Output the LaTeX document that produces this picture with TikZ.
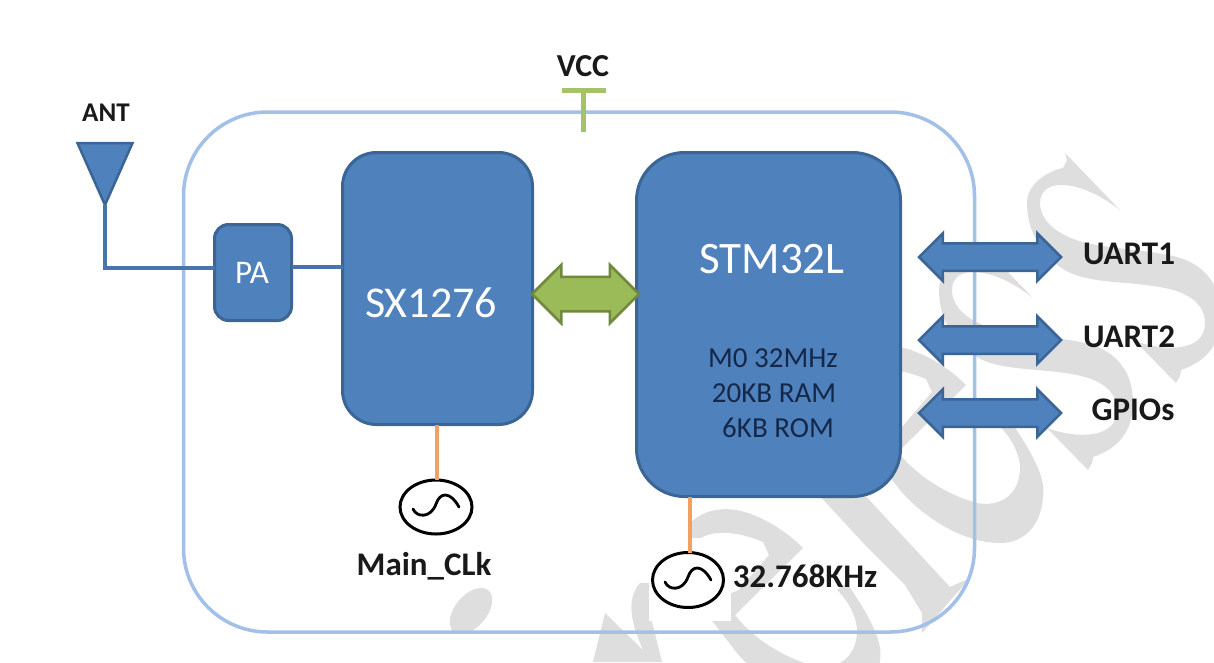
\documentclass[tikz,border=0pt]{standalone}
\usepackage{fontspec}
\setmainfont{Carlito}
\usetikzlibrary{shapes.geometric,shapes.arrows,calc}
\definecolor{blk}{HTML}{4F81BD}
\definecolor{blkline}{HTML}{3A6595}
\definecolor{framec}{HTML}{A3C0E8}
\definecolor{grn}{HTML}{9BBB59}
\definecolor{grnline}{HTML}{71893F}
\definecolor{orng}{HTML}{F0A060}
\definecolor{wm}{HTML}{DEDEDE}
\definecolor{navy}{HTML}{14284A}
\newcommand{\fs}[1]{\fontsize{#1}{#1}\selectfont}
\newcommand{\oscwave}[1]{\draw[wavestyle] ([shift={(-23,2)}]#1.center) .. controls +(4,9) and +(-5,14) .. ([shift={(0,-3)}]#1.center) .. controls +(4,-12) and +(-9,-16) .. ([shift={(23,0)}]#1.center);}
\newcommand{\sglyph}{%
 \fill[wm] (1065,153) -- (1120,210) .. controls (1100,195) and (1080,185) .. (1060,185)
  .. controls (1048,185) and (1040,192) .. (1040,203)
  .. controls (1040,222) and (1060,237) .. (1087,243)
  .. controls (1120,250) and (1150,250) .. (1177,257)
  .. controls (1205,265) and (1221,285) .. (1221,316)
  .. controls (1221,345) and (1205,362) .. (1181,370)
  -- (1180,376) -- (1176,383) -- (1135,341)
  .. controls (1165,352) and (1205,352) .. (1205,323)
  .. controls (1205,305) and (1190,293) .. (1165,288)
  .. controls (1125,280) and (1085,285) .. (1060,267)
  .. controls (1040,252) and (1027,230) .. (1027,203)
  .. controls (1027,185) and (1045,172) .. (1063,168)
  -- (1067,160) -- cycle;}
\newcommand{\eglyph}{%
 \fill[wm,even odd rule] (803,548) -- (735,615)
  .. controls (748,632) and (775,655) .. (814,666)
  .. controls (835,670) and (857,660) .. (857,630)
  .. controls (857,618) and (848,600) .. (837,590)
  -- (847,583)
  .. controls (865,610) and (884,640) .. (880,660)
  .. controls (878,690) and (860,706) .. (837,706)
  .. controls (800,706) and (760,680) .. (737,653)
  -- (713,622) -- (690,600) -- (690,523)
  .. controls (705,508) and (730,505) .. (753,515)
  .. controls (772,522) and (790,535) .. (803,548) -- cycle
  (769,555) -- (739,590) -- (715,600) -- (698,580) -- (698,540)
  .. controls (710,530) and (735,530) .. (763,542) -- cycle;}
\tikzset{
 x=1pt,y=-1pt,
 framebox/.style={draw=framec,line width=3.5pt,rectangle,rounded corners=84pt,inner sep=0pt,outer sep=0pt},
 chip/.style={draw=blkline,fill=blk,line width=3pt,rectangle,inner sep=0pt,outer sep=0pt},
 dblarrow/.style={double arrow,draw=blkline,fill=blk,line width=2.5pt,double arrow tip angle=90,inner xsep=0pt,inner ysep=12.5pt,outer sep=0pt,minimum height=142pt,minimum width=45pt,double arrow head extend=10pt},
 grnarrow/.style={double arrow,draw=grnline,fill=grn,line width=2.5pt,double arrow tip angle=90,inner xsep=0pt,inner ysep=16pt,outer sep=0pt,minimum height=107pt,minimum width=56pt,double arrow head extend=12pt},
 osc/.style={ellipse,draw=black,fill=white,line width=3pt,inner sep=0pt,outer sep=0pt},
 wavestyle/.style={draw=black,line width=2.8pt,line cap=round},
 wire/.style={draw=blk!90!black,line width=4pt},
 orngwire/.style={draw=orng,line width=4pt},
 vccwire/.style={draw=grn!90!white,line width=5pt},
 lab/.style={font=\bfseries,text=black!90,inner sep=0pt},
 whitetxt/.style={text=white,inner sep=0pt},
 navytxt/.style={text=navy,inner sep=0pt,font=\fs{29}},
}
\begin{document}
\begin{tikzpicture}
\useasboundingbox (0,0) rectangle (1214,662);
\fill[white] (0,0) rectangle (1214,662);
% watermark
\begin{scope}
\clip (0,0) rectangle (1214,662);
\sglyph
\begin{scope}[shift={(-88,87)}]\sglyph\end{scope}
\begin{scope}[shift={(163,-163)}]\eglyph\end{scope}
\eglyph
% l
\fill[wm] (805,480) -- (867,547) -- (905,585) -- (922,613) -- (922,633) -- (970,578) -- (950,587) -- (860,490) -- cycle;
% W
\fill[wm] (605,613) -- (643,650) .. controls (632,625) and (625,600) .. (640,583) -- (652,583) -- (652,622) -- (662,662) -- (593,662) -- cycle;
% i dot
\begin{scope}
\clip (440,580) rectangle (500,632);
\fill[wm,rotate around={50:(471,611)}] (471,611) ellipse [x radius=27,y radius=16];
\end{scope}
\fill[white] (649,538) rectangle (731,621);
\end{scope}
% frame
\node[framebox,minimum width=791pt,minimum height=520pt] (frame) at (579,372) {};
% VCC
\node[lab,font=\bfseries\fs{32}] (vcc) at (583,66) {VCC};
\coordinate (vccl) at (562,90);
\coordinate (vccr) at (606,90);
\coordinate (vccb) at (583,132);
\draw[vccwire] (vccl) -- (vccr);
\draw[vccwire] (vccb |- vccl) -- (vccb);
% ANT
\node[lab,font=\bfseries\fs{27}] (antl) at (106,113) {ANT};
\node[isosceles triangle,isosceles triangle stretches,shape border rotate=270,draw=blkline,fill=blk,line width=2.5pt,inner sep=0pt,outer sep=0pt,minimum width=55pt,minimum height=62pt,anchor=apex] (ant) at (105,205) {};
% chips
\node[chip,rounded corners=14pt,minimum width=77pt,minimum height=96pt] (pa) at (253,272.5) {};
\node[whitetxt,font=\fs{33}] (patxt) at (252,273) {PA};
\node[chip,rounded corners=34pt,minimum width=190pt,minimum height=272pt] (sx) at (437.5,288.5) {};
\node[whitetxt,font=\fs{44}] (sxt) at (431,303) {SX1276};
\node[chip,rounded corners=48pt,minimum width=264pt,minimum height=344pt] (stm) at (768.5,324.5) {};
\node[whitetxt,font=\fs{45}] (stmt) at (772,259) {STM32L};
\node[navytxt] (t1) at (773,358) {M0 32MHz};
\node[navytxt] (t2) at (774,393) {20KB RAM};
\node[navytxt] (t3) at (778,428) {6KB ROM};
% wires
\draw[wire] (ant.apex) |- ([yshift=4.5pt]pa.west);
\draw[wire] ([yshift=5.5pt]pa.east) -- ([yshift=5.5pt]pa.east -| sx.west);
% green arrow
\node[grnarrow] (bus) at (585.5,294) {};
% right arrows
\node[dblarrow] (a1) at (990,257) {};
\node[dblarrow] (a2) at (990,340) {};
\node[dblarrow] (a3) at (990,413) {};
\node[lab,font=\bfseries\fs{33}] (u1) at (1129,254) {UART1};
\node[lab,font=\bfseries\fs{33}] (u2) at (1129,337) {UART2};
\node[lab,font=\bfseries\fs{33}] (u3) at (1133,410) {GPIOs};
% oscillators
\node[osc,minimum width=72pt,minimum height=54pt] (o1) at (436,507) {};
\node[osc,minimum width=71pt,minimum height=55pt] (o2) at (688,580) {};
\oscwave{o1}
\oscwave{o2}
\draw[orngwire] ([xshift=1pt]o1.north) -- ([xshift=1pt]o1.north |- sx.south);
\draw[orngwire] ([xshift=2pt]o2.north) -- ([xshift=2pt]o2.north |- stm.south);
\node[lab,font=\bfseries\fs{33}] (c1) at (424,566) {Main\_CLk};
\node[lab,font=\bfseries\fs{33}] (c2) at (805,576) {32.768KHz};
\end{tikzpicture}
\end{document}
